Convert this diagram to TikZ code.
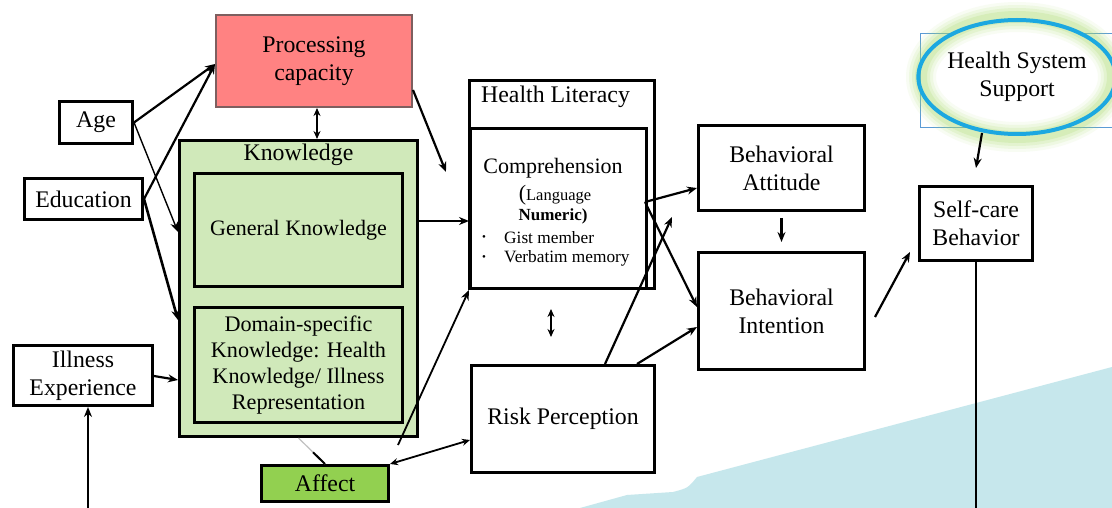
\documentclass[tikz,border=0pt]{standalone}
\usepackage{fontspec}
\setmainfont{Liberation Serif}
\usetikzlibrary{arrows.meta,calc,shapes.geometric}
\definecolor{procfill}{RGB}{255,130,130}
\definecolor{procline}{RGB}{125,95,95}
\definecolor{knowfill}{RGB}{208,233,186}
\definecolor{affectfill}{RGB}{146,208,80}
\definecolor{seabg}{RGB}{198,231,236}
\definecolor{ringblue}{RGB}{28,168,224}
\definecolor{glowgreen}{RGB}{170,220,110}
\definecolor{frameblue}{RGB}{91,155,213}
\begin{document}
\begin{tikzpicture}[x=1pt,y=-1pt,
  box/.style={draw=black,line width=2.6pt,fill=white,inner sep=0pt,align=center,font=\fontsize{23.8}{28}\selectfont},
  lbl/.style={inner sep=0pt,font=\fontsize{23.8}{28}\selectfont},
  small/.style={inner sep=0pt,font=\fontsize{17.3}{20}\selectfont},
  arr/.style={-{Stealth[length=10pt,width=8pt]},line width=2.2pt},
  darr/.style={{Stealth[length=8pt,width=7pt]}-{Stealth[length=8pt,width=7pt]},line width=2pt}
]
\fill[white] (0,0) rectangle (1112,508);
\useasboundingbox (0,0) rectangle (1112,508);
\fill[seabg] (580,508) -- (627,495) -- (673,492) .. controls (688,488) .. (697,477) -- (1112,367) -- (1112,508) -- cycle;

% left column
\node[box,fill=procfill,draw=procline,line width=2pt,minimum width=196pt,minimum height=92pt] (proc) at (314,61) {Processing\\capacity};
\node[box,minimum width=73.4pt,minimum height=42.4pt] (age) at (96,122.5) {Age};
\node[box,minimum width=118.4pt,minimum height=41.4pt] (edu) at (83.5,199) {Education};
\node[box,fill=knowfill,minimum width=238.4pt,minimum height=296.4pt] (know) at (298.5,288.5) {};
\node[lbl] (knowtitle) at (298.5,155) {Knowledge};
\node[box,fill=knowfill,minimum width=208.4pt,minimum height=112.4pt,font=\fontsize{22}{26}\selectfont] (gen) at (298.5,230) {General Knowledge};
\node[box,fill=knowfill,minimum width=208.4pt,minimum height=115.4pt,font=\fontsize{22.2}{25.7}\selectfont] (dom) at (298.5,365) {Domain-specific\\Knowledge: Health\\Knowledge/ Illness\\Representation};
\node[box,minimum width=139.4pt,minimum height=60.4pt] (ill) at (83,375.5) {Illness\\Experience};
\node[box,fill=affectfill,minimum width=127.4pt,minimum height=36.4pt] (affect) at (325,483.5) {Affect};

% health literacy
\node[box,minimum width=185.4pt,minimum height=208.4pt] (hl) at (562,184.5) {};
\node[lbl,anchor=west] (hltitle) at (481,97) {Health Literacy};
\node[box,minimum width=176.4pt,minimum height=160.4pt] (comp) at (558.5,208.5) {};
\node[lbl,font=\fontsize{22}{26}\selectfont] (comptitle) at (553,168) {Comprehension};
\node[small] (complang) at (555,195) {{\fontsize{22}{24}\selectfont(}{\fontsize{16.5}{19}\selectfont Language}};
\node[small,font=\fontsize{17}{19}\selectfont\bfseries] (compnum) at (553,216) {Numeric)};
\node[inner sep=0pt,font=\fontsize{11}{12}\selectfont] (b1) at (484,238) {\textbullet};
\node[inner sep=0pt,font=\fontsize{11}{12}\selectfont] (b2) at (484,258) {\textbullet};
\node[small,anchor=west] (gist) at (504,238) {Gist member};
\node[small,anchor=west] (verb) at (504,258) {Verbatim memory};
\node[box,minimum width=183.4pt,minimum height=107.4pt] (risk) at (563,419) {Risk Perception};

% behaviour
\node[box,minimum width=166.4pt,minimum height=85.4pt] (batt) at (781.5,168) {Behavioral\\Attitude};
\node[box,minimum width=166.4pt,minimum height=117.4pt] (bint) at (781.5,311) {Behavioral\\Intention};
\node[box,minimum width=113.4pt,minimum height=74.4pt] (self) at (976,223.5) {Self-care\\Behavior};

% health system support
\node[draw=frameblue,line width=0.8pt,minimum width=194pt,minimum height=94pt,inner sep=0pt] (hssframe) at (1017,80.5) {};
\fill[white] (1017,77) ellipse [x radius=95pt, y radius=59pt];
\foreach \w/\o in {30/0.08,24/0.12,18/0.16,12/0.22}
  \draw[glowgreen,line width=\w pt,opacity=\o] (1017,77) ellipse [x radius=96pt, y radius=60pt];
\node[ellipse,draw=ringblue,line width=4pt,minimum width=186pt,minimum height=114pt,inner sep=0pt,align=center,font=\fontsize{23.8}{28}\selectfont] (hss) at (1017,77) {Health System\\Support};

\coordinate (illbot) at (88,508);
\coordinate (bot) at (0,508);

% connectors
\draw[arr] (age.east) -- ([yshift=-3pt]proc.west);
\draw[arr] (edu.east) -- ([yshift=-3pt]proc.west);
\draw[arr,line width=1.4pt] (age.east) -- ([yshift=56.5pt]know.west);
\draw[arr,line width=2.6pt] (edu.east) -- ([yshift=-31.5pt]know.west);
\draw[arr] ([yshift=-0.5pt]ill.east) -- ([yshift=-91.5pt]know.west);
\draw[arr] (illbot) -- ([xshift=5pt]ill.south);
\draw[darr] ([xshift=3pt]proc.south) -- ([xshift=3pt]proc.south |- know.north);
\draw[arr] ([yshift=-29pt]proc.east) -- ([xshift=-22pt,yshift=12.5pt]hl.west);
\draw[arr,line width=1.8pt] ([yshift=67.5pt]know.east) -- ([yshift=67.5pt]know.east -| comp.west);
\draw[gray!50,line width=1.2pt] (know.south) -- (affect.north);
\draw[line width=2pt] ($(know.south)!0.55!(affect.north)$) -- (affect.north);
\draw[arr,line width=1.8pt] ([xshift=8pt,yshift=19pt]affect.north east) -- (comp.south west);
\draw[darr,line width=1.8pt] (affect.north east) -- ([yshift=-21pt]risk.west);
\draw[darr] ([xshift=-7.5pt,yshift=-19pt]comp.south) -- ([xshift=-12pt,yshift=27pt]risk.north);
\draw[arr] ([xshift=-3pt,yshift=6.5pt]comp.east) -- ([yshift=-20pt]batt.west);
\draw[arr] ([xshift=-3pt,yshift=6.5pt]comp.east) -- ([yshift=4pt]bint.west);
\draw[arr] ([xshift=42pt]risk.north) -- ([xshift=-25pt,yshift=-5pt]batt.south west);
\draw[arr] ([xshift=74pt]risk.north) -- ([yshift=-16pt]bint.west);
\draw[arr] ([yshift=-6pt]batt.south) -- ([yshift=9pt]bint.north);
\draw[arr] ([xshift=9pt,yshift=-6pt]bint.east) -- ([xshift=-8pt,yshift=-28.5pt]self.west);
\draw[arr] ([xshift=-35pt,yshift=3pt]hss.south) -- ([yshift=17pt]self.north);
\draw[line width=2.2pt] (self.south) -- (self.south |- bot);
\end{tikzpicture}
\end{document}
